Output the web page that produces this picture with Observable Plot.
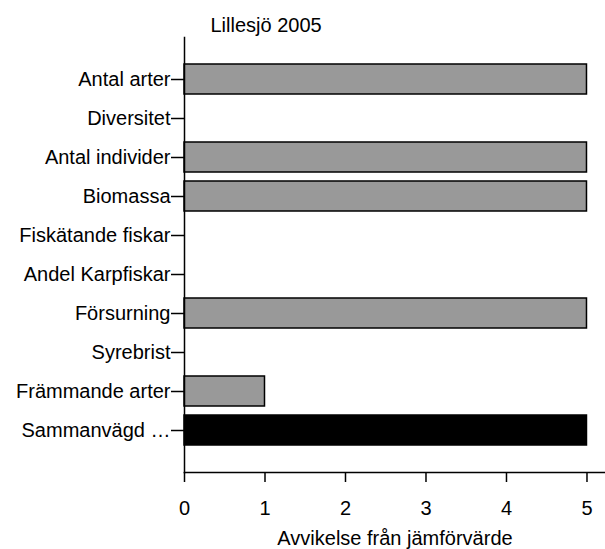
<!DOCTYPE html>
<html>
<head>
<meta charset="utf-8">
<script src="https://cdn.jsdelivr.net/npm/d3@7"></script>
<script src="https://cdn.jsdelivr.net/npm/@observablehq/plot@0.6"></script>
<style>
  html, body { margin: 0; padding: 0; background: #fff; }
  #chart svg { display: block; }
</style>
</head>
<body>
<div id="chart"></div>
<script>
const title = "Lillesjö 2005";
const categories = [
  "Antal arter",
  "Diversitet",
  "Antal individer",
  "Biomassa",
  "Fiskätande fiskar",
  "Andel Karpfiskar",
  "Försurning",
  "Syrebrist",
  "Främmande arter",
  "Sammanvägd …"
];
const values = [5, 0, 5, 5, 0, 0, 5, 0, 1, 5];
const kinds = ["part", "part", "part", "part", "part", "part", "part", "part", "part", "total"];
const xTicks = [0, 1, 2, 3, 4, 5];
const xLabel = "Avvikelse från jämförvärde";

const data = categories.map((c, i) => ({category: c, value: values[i], kind: kinds[i]}));

const font = "'Liberation Sans', Arial, sans-serif";

const chart = Plot.plot({
  width: 605,
  height: 549,
  marginTop: 37,
  marginBottom: 77,
  marginLeft: 184,
  marginRight: 0,
  style: {fontFamily: font, fontSize: "20px", color: "#000", background: "#fff"},
  x: {domain: [0, 5.23]},
  y: {domain: categories, paddingInner: 0.24, paddingOuter: 0.65},
  marks: [
    Plot.barX(data.filter(d => d.value > 0), {
      x: "value",
      y: "category",
      fill: d => d.kind === "total" ? "#000000" : "#999999",
      stroke: "#000",
      strokeWidth: 1.5
    }),
    Plot.frame({anchor: "left", stroke: "#000", strokeWidth: 1.5}),
    Plot.frame({anchor: "bottom", stroke: "#000", strokeWidth: 1.5}),
    Plot.axisX({
      ticks: xTicks,
      tickFormat: d => String(d),
      tickSize: 10,
      tickPadding: 18,
      label: xLabel,
      labelAnchor: "center",
      labelArrow: "none",
      labelOffset: 72,
      fontSize: 20,
      stroke: "#000",
      strokeWidth: 1.5
    }),
    Plot.axisY({
      tickSize: 13,
      tickPadding: 1,
      label: null,
      fontSize: 20,
      stroke: "#000",
      strokeWidth: 1.5
    }),
    Plot.text([title], {
      frameAnchor: "top-left",
      textAnchor: "start",
      lineAnchor: "middle",
      dx: 26,
      dy: -12,
      fontSize: 20,
      fill: "#000"
    })
  ]
});

document.getElementById("chart").appendChild(chart);
</script>
</body>
</html>
